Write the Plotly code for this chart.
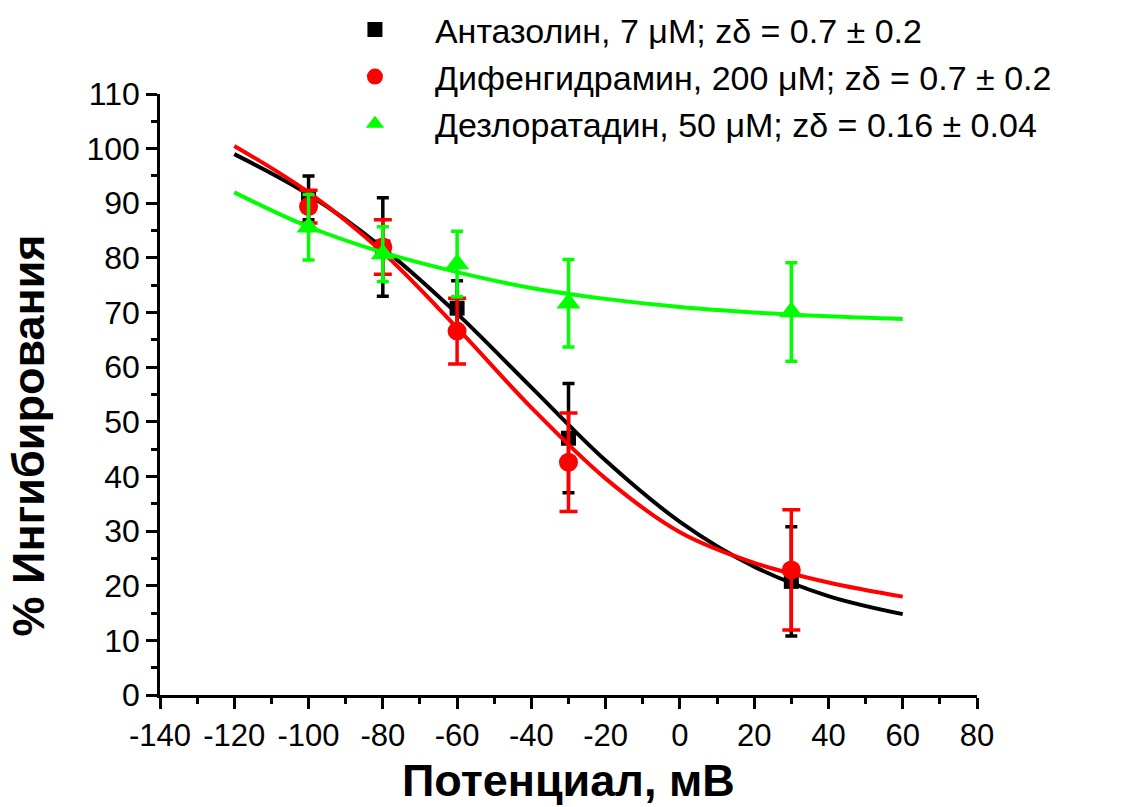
import plotly.graph_objects as go

# Measured inhibition at each test potential (mean ± error)
potential = [-100, -80, -60, -30, 30]

antazoline = [91.0, 82.0, 70.8, 47.0, 20.8]
antazoline_err = [4.0, 9.0, 5.0, 10.0, 10.0]

diphenhydramine = [89.4, 82.0, 66.6, 42.6, 22.9]
diphenhydramine_err = [3.0, 5.0, 6.0, 9.0, 11.0]

desloratadine = [85.6, 80.7, 78.9, 71.7, 70.1]
desloratadine_err = [6.0, 5.0, 6.0, 8.0, 9.0]

# Boltzmann fit curves, sampled every 20 mV
fit_v = [-120, -100, -80, -60, -40, -20, 0, 20, 40, 60]
fit_antazoline = [99.0, 91.6, 81.8, 69.8, 56.3, 42.9, 31.7, 23.5, 18.1, 14.8]
fit_diphenhydramine = [100.5, 92.0, 81.0, 67.2, 52.6, 39.6, 29.8, 24.2, 20.6, 18.0]
fit_desloratadine = [92.0, 85.7, 81.0, 77.4, 74.5, 72.5, 71.0, 70.0, 69.3, 68.8]

# Axis ticks (labels with a plain hyphen as the minus sign)
x_ticks = [-140, -120, -100, -80, -60, -40, -20, 0, 20, 40, 60, 80]
x_ticklabels = ["-140", "-120", "-100", "-80", "-60", "-40", "-20", "0", "20", "40", "60", "80"]

legend_names = [
    "Антазолин, 7 μM; zδ = 0.7 ± 0.2",
    "Дифенгидрамин, 200 μM; zδ = 0.7 ± 0.2",
    "Дезлоратадин, 50 μM; zδ = 0.16 ± 0.04",
]

BLACK = "#000000"
RED = "#ff0000"
GREEN = "#00ff00"
FONT = "Liberation Sans, Arial, sans-serif"

series = [
    (antazoline, antazoline_err, fit_antazoline, BLACK, "square", 15, 6),
    (diphenhydramine, diphenhydramine_err, fit_diphenhydramine, RED, "circle", 19, 9),
    (desloratadine, desloratadine_err, fit_desloratadine, GREEN, "triangle-up", 21, 6),
]

fig = go.Figure()
for name, (vals, errs, fit, color, symbol, size, cap) in zip(legend_names, series):
    fig.add_trace(go.Scatter(
        x=fit_v, y=fit, mode="lines",
        line=dict(color=color, width=4, shape="spline", smoothing=1.0),
        showlegend=False, hoverinfo="skip",
    ))
    fig.add_trace(go.Scatter(
        x=potential, y=vals, mode="markers", name=name,
        marker=dict(symbol=symbol, size=size, color=color, line=dict(width=0)),
        error_y=dict(type="data", array=errs, visible=True, color=color,
                     thickness=3.5, width=cap),
    ))

fig.update_xaxes(
    range=[-140, 80], tickvals=x_ticks, ticktext=x_ticklabels,
    ticks="outside", ticklen=11, tickwidth=2.5, tickcolor=BLACK,
    minor=dict(dtick=10, ticks="outside", ticklen=6, tickwidth=2.5, tickcolor=BLACK),
    showline=True, linewidth=2.5, linecolor=BLACK,
    showgrid=False, zeroline=False, automargin=False,
    tickfont=dict(family=FONT, size=31, color=BLACK),
)
fig.update_yaxes(
    range=[0, 110], tick0=0, dtick=10,
    ticks="outside", ticklen=11, tickwidth=2.5, tickcolor=BLACK,
    minor=dict(dtick=5, ticks="outside", ticklen=6, tickwidth=2.5, tickcolor=BLACK),
    showline=True, linewidth=2.5, linecolor=BLACK,
    showgrid=False, zeroline=False, automargin=False,
    tickfont=dict(family=FONT, size=32, color=BLACK),
)

fig.add_annotation(
    text="<b>Потенциал, мВ</b>", xref="paper", yref="paper",
    x=0.5, y=-0.142, yanchor="middle", showarrow=False,
    font=dict(family=FONT, size=45, color=BLACK),
)
fig.add_annotation(
    text="<b>% Ингибирования</b>", xref="paper", yref="paper",
    x=-0.161, y=0.4326, textangle=-90, showarrow=False,
    xanchor="center", yanchor="middle",
    font=dict(family=FONT, size=45, color=BLACK),
)

fig.update_layout(
    width=1124, height=807,
    margin=dict(l=160, r=147, t=94, b=112, autoexpand=False),
    paper_bgcolor="white", plot_bgcolor="white",
    legend=dict(
        xref="container", yref="container",
        x=0.2802, y=0.999, xanchor="left", yanchor="top",
        bgcolor="rgba(0,0,0,0)", itemwidth=110,
        font=dict(family=FONT, size=34, color=BLACK),
        tracegroupgap=0,
    ),
)

fig.write_html("out.html")
